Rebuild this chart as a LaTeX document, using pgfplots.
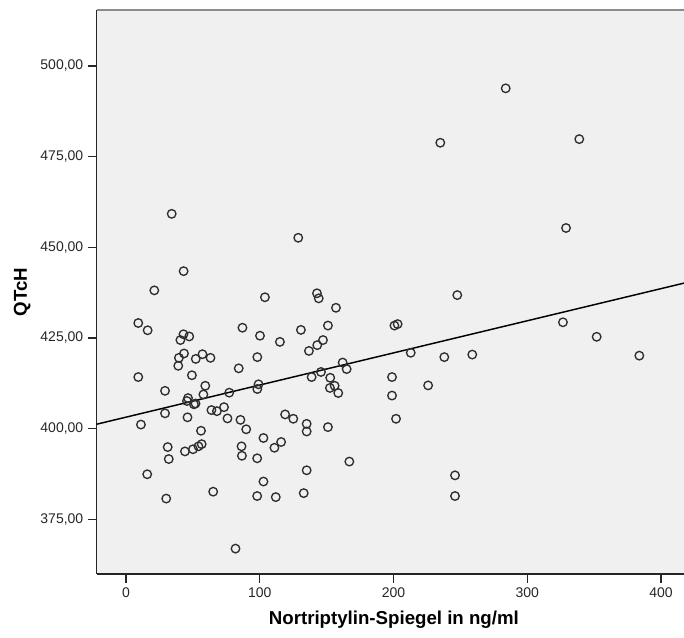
\documentclass[border=0pt]{standalone}
\usepackage{fontspec}
\setmainfont{Liberation Sans}
\usepackage{pgfplots}
\pgfplotsset{compat=1.18}
\definecolor{plotbg}{RGB}{240,240,240}
\definecolor{frame}{RGB}{140,140,140}
\definecolor{markc}{RGB}{45,45,45}

\begin{document}
\begin{tikzpicture}
\begin{axis}[
  scale only axis, width=440.5pt, height=423pt,
  xmin=-21.9, xmax=417.2, ymin=359.9, ymax=515.4,
  axis x line*=bottom, axis y line*=left,
  axis line style={-, black!85, line width=1pt},
  axis background/.style={fill=plotbg},
  xtick={0,100,200,300,400}, ytick={375,400,425,450,475,500},
  tick align=outside, major tick length=6.5pt,
  tick style={black!85, line width=1pt},
  tick label style={font=\fontsize{10.5}{12}\selectfont, text=black!85},
  /pgf/number format/assume math mode=true,
  yticklabel style={/pgf/number format/.cd, fixed, fixed zerofill, precision=2, use comma, 1000 sep={}},
  xticklabel style={/pgf/number format/.cd, fixed, 1000 sep={}},
  every axis y label/.style={at={(axis description cs:-0.127,0.5)}, rotate=90, anchor=center},
  every axis x label/.style={at={(axis description cs:0.506,-0.0816)}, anchor=center},
  ylabel={\fontsize{14}{16}\selectfont\bfseries QTcH},
  xlabel={\fontsize{14}{16}\selectfont\bfseries Nortriptylin-Spiegel in ng/ml},
  clip=false,
]
\draw[frame, line width=1.2pt] (rel axis cs:0,1) -- (rel axis cs:1,1);
% regression line
\addplot[black, line width=1.1pt] coordinates {(-21.9,401.2) (417.2,440.1)};
% measurements
\addplot[only marks, mark=o, mark size=3.2pt, mark options={markc, line width=1pt}] coordinates {
(34.2,459.2) (43.1,443.4) (21.2,438.1) (103.9,436.2) (9.2,429.1) (16.2,427.1)
(43.0,426.0) (40.7,424.4) (47.3,425.4) (87.1,427.8) (100.2,425.6) (115.1,423.9)
(43.4,420.7) (39.6,419.5) (57.2,420.5) (52.2,419.2) (63.2,419.5) (98.2,419.7)
(39.1,417.3) (9.2,414.2) (49.3,414.7) (29.2,410.4) (59.3,411.8) (57.9,409.4)
(77.2,409.9) (45.6,407.6) (46.4,408.4) (50.8,406.7) (52.0,406.9) (29.2,404.2)
(46.0,403.1) (63.9,405.1) (68.0,404.8) (73.3,405.9) (75.9,402.8) (11.2,401.1)
(56.1,399.4) (31.2,394.9) (32.0,391.6) (44.1,393.7) (50.1,394.3) (54.2,395.1)
(56.6,395.7) (15.9,387.4) (30.1,380.7) (65.2,382.6) (81.9,366.9) (84.3,416.6)
(99.1,412.2) (98.2,410.9) (85.6,402.4) (89.9,399.8) (102.8,397.4) (111.0,394.7)
(116.0,396.3) (86.4,395.1) (86.7,392.5) (98.1,391.8) (102.8,385.4) (98.1,381.4)
(112.0,381.1) (119.0,403.9) (125.1,402.7) (128.8,452.6) (142.8,437.3) (144.1,435.9)
(157.0,433.3) (130.8,427.2) (151.0,428.4) (147.3,424.4) (143.0,423.0) (136.8,421.4)
(200.7,428.4) (203.1,428.8) (212.9,420.9) (162.0,418.2) (165.0,416.4) (145.8,415.6)
(138.8,414.2) (152.7,414.0) (156.0,411.8) (152.5,411.2) (158.7,409.8) (198.9,414.2)
(198.9,409.1) (225.9,411.9) (238.0,419.7) (135.1,401.3) (135.1,399.2) (151.0,400.4)
(201.9,402.7) (167.0,390.9) (135.1,388.5) (132.9,382.2) (283.9,493.8) (235.0,478.8)
(338.9,479.8) (329.0,455.3) (247.7,436.8) (258.9,420.4) (326.7,429.3) (351.9,425.3)
(383.8,420.1) (246.0,387.1) (246.0,381.4)
};
\end{axis}
\pgfresetboundingbox
\useasboundingbox (-72.5pt,-47.25pt) rectangle (440.5pt,430.5pt);
\end{tikzpicture}
\end{document}
